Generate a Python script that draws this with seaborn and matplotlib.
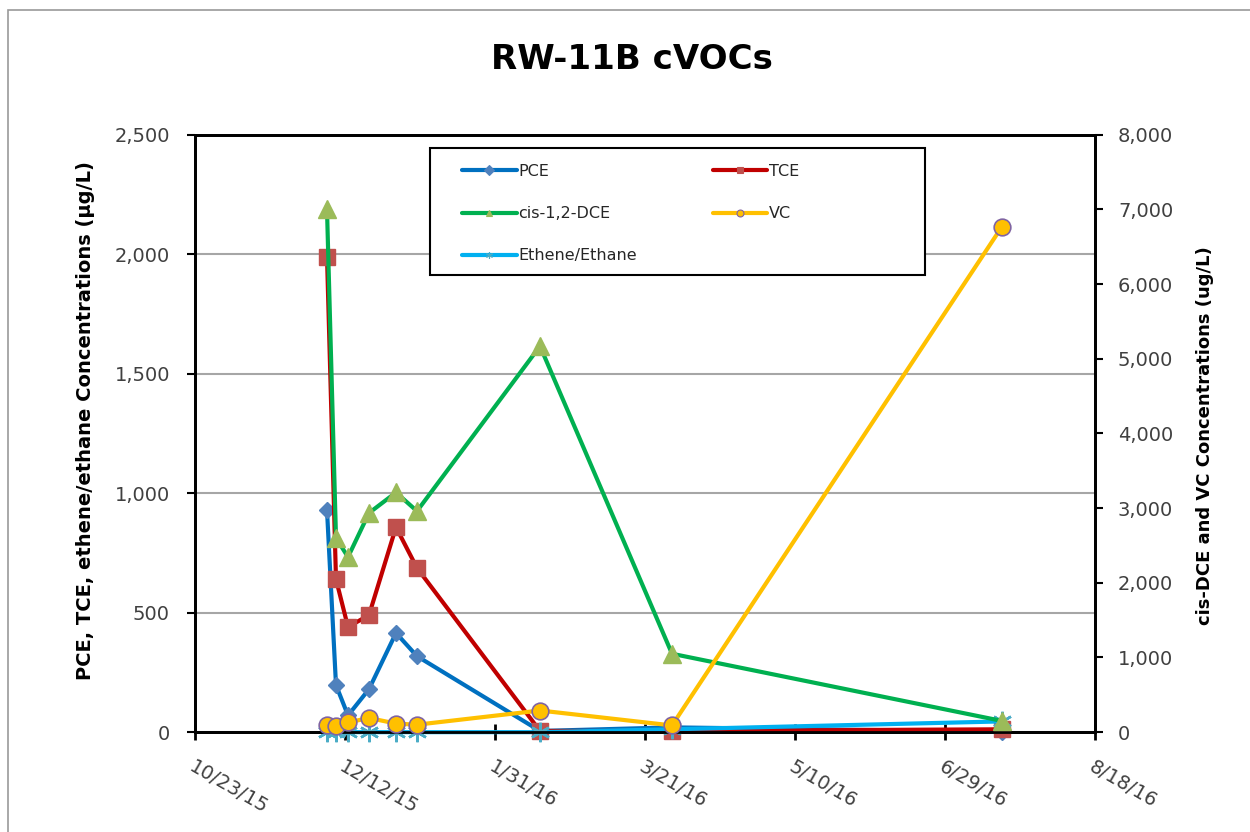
import numpy as np
import pandas as pd
import matplotlib
matplotlib.use("Agg")
import matplotlib.pyplot as plt
import matplotlib.transforms as mtransforms
from matplotlib.lines import Line2D
from matplotlib.patches import Rectangle
import seaborn as sns

# Sampling dates
sample_dates = ["2015-12-06", "2015-12-09", "2015-12-13", "2015-12-20", "2015-12-29",
                "2016-01-05", "2016-02-15", "2016-03-30", "2016-07-18"]

# Primary axis (µg/L)
pce = [930, 197, 70, 180, 415, 318, 5, 20, 2]
tce = [1990, 640, 440, 490, 858, 687, 5, 5, 12]
ethene = [0, 0, 0, 0, 0, 0, 0, 12, 45]

# Secondary axis (ug/L)
cis_dce = [7000, 2600, 2345, 2935, 3210, 2960, 5170, 1050, 150]
vc = [90, 80, 130, 190, 115, 100, 290, 90, 6770]

left_ticks = [0, 500, 1000, 1500, 2000, 2500]
right_ticks = [0, 1000, 2000, 3000, 4000, 5000, 6000, 7000, 8000]
x_start = "2015-10-23"
x_end = "2016-08-18"

df = pd.DataFrame({
    "date": pd.to_datetime(sample_dates),
    "PCE": pce, "TCE": tce, "Ethene/Ethane": ethene,
    "cis-1,2-DCE": cis_dce, "VC": vc,
})

sns.set_theme(style="white")
plt.rcParams["font.family"] = ["DejaVu Sans"]

fig = plt.figure(figsize=(12.5, 8.32), dpi=100)
ax = fig.add_axes([0.156, 0.12, 0.72, 0.718])
ax2 = ax.twinx()

styles = {
    "PCE": dict(color="#0070C0", marker="D", markersize=8, mfc="#4F81BD", mec="#4F81BD"),
    "TCE": dict(color="#C00000", marker="s", markersize=12, mfc="#C0504D", mec="#C0504D"),
    "Ethene/Ethane": dict(color="#00B0F0", marker=(6, 2, 0), markersize=14, mfc="#4BACC6",
                          mec="#4BACC6", mew=1.8),
    "cis-1,2-DCE": dict(color="#00B050", marker="^", markersize=13, mfc="#9BBB59", mec="#9BBB59"),
    "VC": dict(color="#FFC000", marker="o", markersize=12, mfc="#FFC000", mec="#8064A2", mew=1.2),
}


def draw(name, axis):
    st = styles[name]
    sns.lineplot(data=df, x="date", y=name, ax=axis, color=st["color"], linewidth=3.0,
                 marker=st["marker"], markersize=st["markersize"],
                 markerfacecolor=st["mfc"], markeredgecolor=st["mec"],
                 markeredgewidth=st.get("mew", 1.0), estimator=None, sort=False,
                 legend=False)
    line = axis.get_lines()[-1]
    line.set_clip_on(False)
    line.set_zorder(3)


for name in ["PCE", "TCE", "Ethene/Ethane"]:
    draw(name, ax)
for name in ["cis-1,2-DCE", "VC"]:
    draw(name, ax2)

# Axis limits and ticks
x0 = pd.Timestamp(x_start)
x1 = pd.Timestamp(x_end)
ax.set_xlim(x0, x1)
xticks = pd.date_range(x0, x1, freq="50D")
ax.set_xticks(xticks)
ax.set_xticklabels([f"{d.month}/{d.day}/{d.strftime('%y')}" for d in xticks],
                   rotation=-30, ha="left", va="top", rotation_mode="anchor",
                   fontsize=14, color="#404040")
shift = mtransforms.ScaledTranslation(6 / 100, 0, fig.dpi_scale_trans)
for lbl in ax.get_xticklabels():
    lbl.set_transform(lbl.get_transform() + shift)

ax.set_ylim(0, 2500)
ax.set_yticks(left_ticks)
ax.set_yticklabels([f"{v:,}" for v in left_ticks], fontsize=14, color="#404040")
ax2.set_ylim(0, 8000)
ax2.set_yticks(right_ticks)
ax2.set_yticklabels([f"{v:,}" for v in right_ticks], fontsize=14, color="#404040")

ax.grid(axis="y", color="#A6A6A6", linewidth=1.5)
ax.grid(axis="x", visible=False)
ax2.grid(False)

for a in (ax, ax2):
    for sp in a.spines.values():
        sp.set_visible(True)
        sp.set_color("black")
        sp.set_linewidth(2)
        sp.set_zorder(2.5)

ax.tick_params(axis="x", which="major", direction="inout", length=12, width=2,
               color="black", pad=12, bottom=True)
ax.tick_params(axis="y", which="major", direction="out", length=6, width=1.5,
               color="black", pad=12, left=True)
ax2.tick_params(axis="y", which="major", direction="out", length=6, width=1.5,
                color="black", pad=10.5, right=True)

ax.set_xlabel("")
ax.set_ylabel("PCE, TCE, ethene/ethane Concentrations (µg/L)", fontsize=14,
              fontweight="bold", color="black")
ax.yaxis.set_label_coords(-0.111, 0.521)
ax2.set_ylabel("cis-DCE and VC Concentrations (ug/L)", fontsize=13,
               fontweight="bold", color="black")
ax2.yaxis.set_label_coords(1.112, 0.496)

fig.text(0.5056, 0.928, "RW-11B cVOCs", ha="center", va="center",
         fontsize=24.5, fontweight="bold", color="black")

# Legend box
box = Rectangle((0.261, 0.7655), 0.55, 0.213, transform=ax2.transAxes,
                facecolor="white", edgecolor="black", linewidth=1.5, zorder=4)
ax2.add_patch(box)

handles = []
labels = []
for name in ["PCE", "cis-1,2-DCE", "Ethene/Ethane", "TCE", "VC"]:
    st = styles[name]
    handles.append(Line2D([0], [0], color=st["color"], linewidth=3.0, marker=st["marker"],
                          markersize=5, markerfacecolor=st["mfc"],
                          markeredgecolor=st["mec"], markeredgewidth=0.8))
    labels.append(name)
leg = ax2.legend(handles, labels, ncol=2, loc="upper left",
                 bbox_to_anchor=(0.297, 0.951), frameon=False, fontsize=11.5,
                 handlelength=3.4, handletextpad=0.12, columnspacing=4.75,
                 labelspacing=1.7, borderpad=0, borderaxespad=0)
for t in leg.get_texts():
    t.set_color("#262626")
leg.set_zorder(5)

# Outer chart frame
fig.patches.append(Rectangle((0.0065, -0.01), 1.0, 0.998, transform=fig.transFigure,
                             facecolor="none", edgecolor="#9A9A9A", linewidth=1.2))

fig.savefig("out.png", dpi=100)
